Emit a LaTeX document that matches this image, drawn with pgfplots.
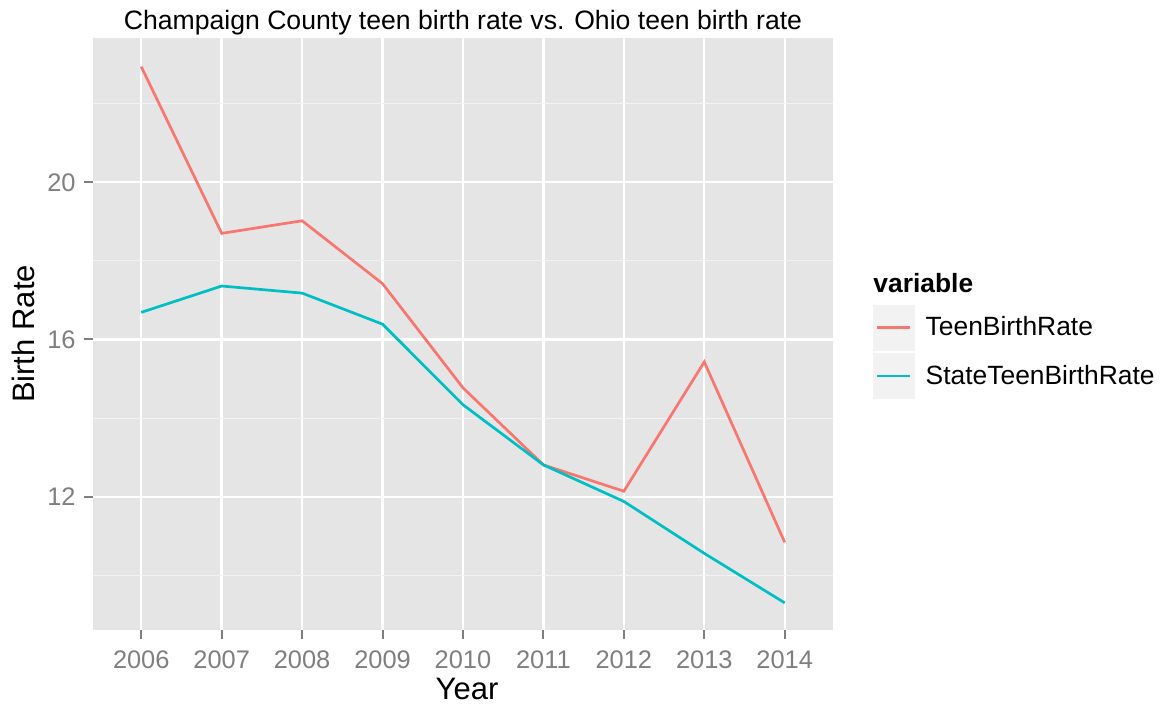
\documentclass[border=0pt]{standalone}
\usepackage{pgfplots}
\pgfplotsset{compat=1.18}
\usepackage{fontspec}
\setmainfont{Liberation Sans}
\definecolor{panelbg}{HTML}{E5E5E5}
\definecolor{keybg}{HTML}{F2F2F2}
\definecolor{minorgrid}{HTML}{F2F2F2}
\definecolor{tickgray}{HTML}{7F7F7F}
\definecolor{cred}{HTML}{F8766D}
\definecolor{cteal}{HTML}{00BFC4}
\begin{document}
\begin{tikzpicture}
\useasboundingbox (0,0) rectangle (582pt,353pt);
\begin{axis}[
  at={(46.5pt,38pt)}, anchor=south west,
  scale only axis, width=370pt, height=296pt,
  xmin=-0.6, xmax=8.6, ymin=8.61, ymax=23.67,
  xtick={0,1,2,3,4,5,6,7,8},
  xticklabels={2006,2007,2008,2009,2010,2011,2012,2013,2014},
  ytick={12,16,20}, yticklabels={12,16,20},
  minor ytick={10,14,18,22},
  /pgf/number format/assume math mode=true,
  grid=both,
  major grid style={white, line width=1.2pt},
  minor grid style={minorgrid, line width=0.6pt},
  axis line style={draw=none},
  axis background/.style={fill=panelbg},
  tick align=outside, tick pos=left,
  major tick length=4.5pt, minor tick length=0pt,
  tick style={tickgray, line width=1pt},
  ticklabel style={font=\fontsize{12.7}{14}\selectfont, text=tickgray, inner sep=0pt},
  xticklabel style={anchor=north, yshift=-5.5pt},
  yticklabel style={anchor=east, xshift=-4pt},
  xlabel={Year}, ylabel={Birth Rate},
  label style={font=\fontsize{15.5}{18}\selectfont, inner sep=0pt},
  xlabel style={at={(axis description cs:0.5055,-0.1005)}, anchor=center},
  ylabel style={at={(axis description cs:-0.0939,0.5)}, anchor=center},
  legend cell align=left,
  legend style={at={(1.0541,0.549)}, anchor=north west, draw=none, fill=none,
    inner sep=0pt, outer sep=0pt, row sep=1.3pt, column sep=5.5pt,
    nodes={inner sep=0pt}, font=\fontsize{13.2}{15}\selectfont},
  legend image code/.code={
    \fill[keybg] (0pt,-10.75pt) rectangle (19.5pt,10.75pt);
    \draw[#1] (1.5pt,0pt) -- (18pt,0pt);
  },
]
\addplot[cred, line width=1.35pt] coordinates {
  (0,22.94) (1,18.70) (2,19.02) (3,17.42) (4,14.77) (5,12.81) (6,12.14) (7,15.43) (8,10.84)
};
\addlegendentry{TeenBirthRate}
\addplot[cteal, line width=1.35pt] coordinates {
  (0,16.69) (1,17.36) (2,17.18) (3,16.39) (4,14.34) (5,12.81) (6,11.88) (7,10.56) (8,9.30)
};
\addlegendentry{StateTeenBirthRate}
\end{axis}
\node[anchor=base, font=\fontsize{13.3}{16}\selectfont, inner sep=0pt] at (231.5pt,338pt)
  {Champaign County teen birth rate vs. Ohio teen birth rate};
\node[anchor=west, font=\bfseries\fontsize{13.2}{15}\selectfont, inner sep=0pt] at (436.5pt,211.25pt) {variable};
\end{tikzpicture}
\end{document}
